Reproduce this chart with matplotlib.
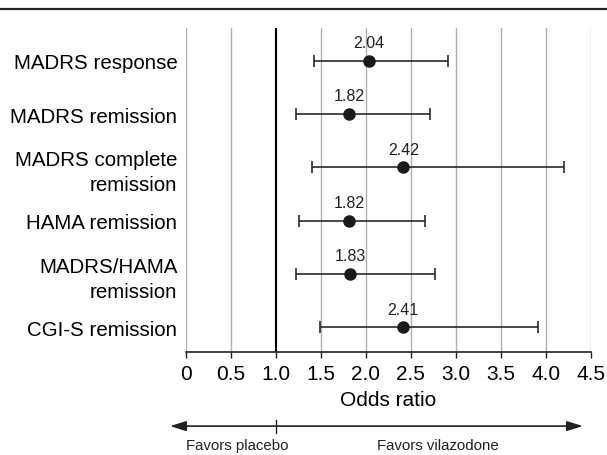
import matplotlib
matplotlib.use('Agg')
import matplotlib.pyplot as plt
from matplotlib.lines import Line2D

plt.rcParams['font.family'] = ['Liberation Sans', 'DejaVu Sans']

# Odds ratios with 95% CI
measures = ['MADRS response', 'MADRS remission', 'MADRS complete\nremission',
            'HAMA remission', 'MADRS/HAMA\nremission', 'CGI-S remission']
odds = [2.04, 1.82, 2.42, 1.82, 1.83, 2.41]
ci_low = [1.43, 1.22, 1.40, 1.26, 1.23, 1.49]
ci_high = [2.92, 2.72, 4.20, 2.66, 2.77, 3.92]
xticks = [0, 0.5, 1.0, 1.5, 2.0, 2.5, 3.0, 3.5, 4.0, 4.5]
xtick_labels = ['0', '0.5', '1.0', '1.5', '2.0', '2.5', '3.0', '3.5', '4.0', '4.5']

fig = plt.figure(figsize=(6.07, 4.56), dpi=100)
ax = fig.add_axes([0.306, 0.226, 0.667, 0.710])

# vertical grid lines, the 1.0 line drawn darker
for t in xticks:
    if t == 1.0:
        ax.axvline(t, color='black', lw=1.5, zorder=1)
    else:
        ax.axvline(t, color='#b0b0b0', lw=1.0, zorder=1)

ypos = list(range(len(measures)))
err_lo = [o - l for o, l in zip(odds, ci_low)]
err_hi = [h - o for o, h in zip(odds, ci_high)]
ax.errorbar(odds, ypos, xerr=[err_lo, err_hi], fmt='o', color='#1a1a1a',
            ecolor='#2a2a2a', elinewidth=1.2, capsize=4, capthick=1.2,
            markersize=8, zorder=3)

for o, y in zip(odds, ypos):
    ax.text(o, y - 0.34, f'{o:.2f}', ha='center', va='center', fontsize=11.5,
            color='#222222')

ax.set_xlim(0, 4.5)
ax.set_ylim(5.46, -0.61)
ax.set_yticks(ypos)
ax.set_yticklabels(measures, fontsize=14.8, linespacing=1.4)
ax.tick_params(axis='y', length=0, pad=6)
ax.set_xticks(xticks)
ax.set_xticklabels(xtick_labels, fontsize=15)
ax.tick_params(axis='x', length=4.5, width=1, pad=4, color='#222222')
ax.set_xlabel('Odds ratio', fontsize=15, labelpad=5)

for side in ['top', 'right', 'left']:
    ax.spines[side].set_visible(False)
ax.spines['bottom'].set_linewidth(1.2)
ax.spines['bottom'].set_color('#222222')

# favors arrow below the axis
tr = ax.get_xaxis_transform()
ax.annotate('', xy=(-0.174, -0.229), xytext=(4.414, -0.229), xycoords=tr,
            textcoords=tr, annotation_clip=False,
            arrowprops=dict(arrowstyle='<|-|>,head_length=0.8,head_width=0.25',
                            mutation_scale=12, color='#222222', lw=1.2,
                            shrinkA=0, shrinkB=0))
ax.plot([1.0, 1.0], [-0.211, -0.249], transform=tr, color='#222222', lw=1,
        clip_on=False)
ax.text(0.576, -0.267, 'Favors placebo', transform=tr, ha='center', va='top',
        fontsize=10.8, color='#222222')
ax.text(2.80, -0.267, 'Favors vilazodone', transform=tr, ha='center', va='top',
        fontsize=10.8, color='#222222')

# rule at the top of the figure
fig.add_artist(Line2D([0, 1], [0.978, 0.978], transform=fig.transFigure,
                      color='#222222', lw=1.6))

plt.savefig('out.png', dpi=100)
